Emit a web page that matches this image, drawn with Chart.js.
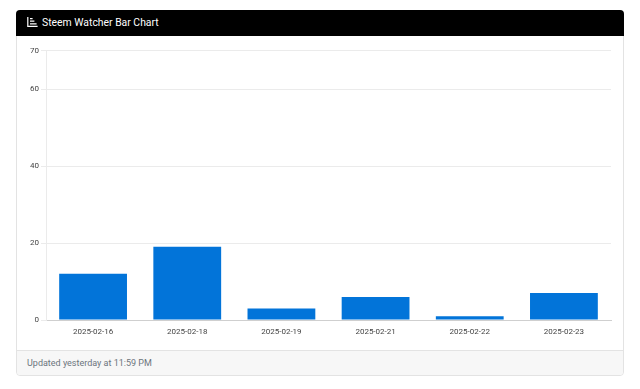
<!DOCTYPE html>
<html>
<head>
<meta charset="utf-8">
<title>Steem Watcher Bar Chart</title>
<script src="https://cdn.jsdelivr.net/npm/chart.js@4"></script>
<style>
    html, body { margin: 0; padding: 0; background: #fff; font-family: Roboto, sans-serif; }
    .card {
        position: absolute; left: 16px; top: 10px; width: 606px; height: 364px;
        border: 1px solid #e3e3e3; border-radius: 4px; background: #fff;
    }
    .card-header {
        position: absolute; left: -1px; top: -1px; width: 608px; height: 26px;
        background: #000; color: #fff; font-size: 10.4px; line-height: 25px;
        border-radius: 4px 4px 0 0;
    }
    .card-header svg { position: absolute; left: 11px; top: 7px; }
    .card-header span { position: absolute; left: 26px; top: 0; white-space: nowrap; }
    .card-footer {
        position: absolute; left: 0; top: 339px; width: 606px; height: 25px;
        background: #f7f7f7; border-top: 1px solid #e3e3e3; box-sizing: border-box;
        border-radius: 0 0 4px 4px;
        color: #6c757d; font-size: 9px; line-height: 24px; padding-left: 10px;
    }
    #barChart { position: absolute; left: 0; top: 25px; }
</style>
</head>
<body>
<div class="card">
    <div class="card-header">
        <svg width="11" height="11" viewBox="0 0 11 11">
            <path d="M0.2 0V10H10.6V8.8H1.4V0Z M3 6.3H9.6V7.5H3Z M3 3.6H7.4V4.8H3Z M3 1H5.6V2.2H3Z" fill="#fff"/>
        </svg>
        <span>Steem Watcher Bar Chart</span>
    </div>
    <canvas id="barChart" width="606" height="314"></canvas>
    <div class="card-footer">Updated yesterday at 11:59 PM</div>
</div>
<script>
const categories = ['2025-02-16', '2025-02-18', '2025-02-19', '2025-02-21', '2025-02-22', '2025-02-23'];
const watchers = [12, 19, 3, 6, 1, 7];
const yMax = 70;
const yStep = 20;

const ctx = document.getElementById('barChart').getContext('2d');
new Chart(ctx, {
    type: 'bar',
    data: {
        labels: categories,
        datasets: [{
            label: 'Watchers',
            data: watchers,
            backgroundColor: '#0274d9',
            borderWidth: 0
        }]
    },
    options: {
        responsive: false,
        animation: false,
        layout: { padding: { top: 14.5, right: 12, left: 0, bottom: 0 } },
        plugins: { legend: { display: false }, tooltip: { enabled: false } },
        scales: {
            x: {
                afterFit: scale => { scale.height = 30; },
                grid: { display: false, drawTicks: false },
                border: { color: '#cfcfcf', width: 1 },
                ticks: { color: '#444', maxRotation: 0, padding: 7, font: { family: 'Roboto', size: 8 } }
            },
            y: {
                min: 0,
                max: yMax,
                afterFit: scale => { scale.width = 29; },
                grid: { color: '#ebebeb', tickLength: 5 },
                border: { color: '#ebebeb', width: 1 },
                ticks: { stepSize: yStep, color: '#444', padding: 2, font: { family: 'Roboto', size: 8 } }
            }
        }
    }
});
</script>
</body>
</html>
